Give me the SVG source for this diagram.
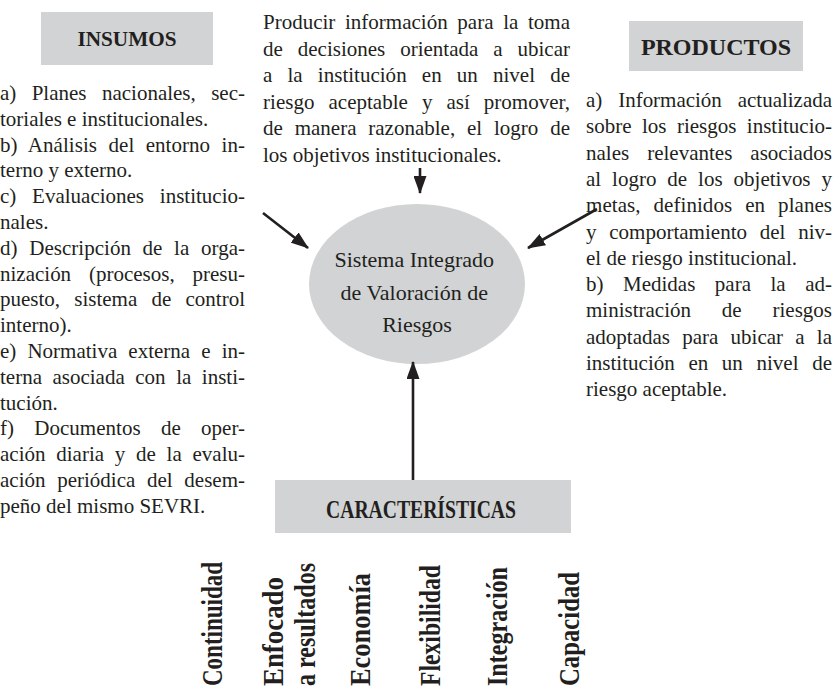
<svg xmlns="http://www.w3.org/2000/svg" width="833" height="686" viewBox="0 0 833 686">
<style>
.bg{fill:#ffffff}
.box{fill:#d1d3d4}
.t{font-family:"Liberation Serif","Times New Roman",serif;font-size:21px;fill:#231f20}
.e{font-family:"Liberation Serif","Times New Roman",serif;font-size:22px;fill:#231f20}
.h{font-family:"Liberation Serif","Times New Roman",serif;font-weight:bold;fill:#231f20}
.v{font-family:"Liberation Serif","Times New Roman",serif;font-size:30px;font-weight:bold;fill:#231f20}
.c{stroke:#231f20;stroke-width:2.6;fill:none}
</style>
<defs>
<marker id="ah" viewBox="0 0 18 13" markerWidth="18" markerHeight="13" refX="17" refY="6.5" orient="auto" markerUnits="userSpaceOnUse">
<path d="M0,0 L18,6.5 L0,13 z" fill="#231f20"/>
</marker>
</defs>
<rect class="bg" x="0" y="0" width="833" height="686"/>

<g id="insumos">
<rect class="box" x="41" y="12" width="172" height="53"/>
<text class="h" x="127" y="46" font-size="22" text-anchor="middle" textLength="99" lengthAdjust="spacingAndGlyphs">INSUMOS</text>
<text class="t">
<tspan x="0" y="100" word-spacing="10.1" textLength="245" lengthAdjust="spacing">a) Planes nacionales, sec-</tspan>
<tspan x="0" y="125.8">toriales e institucionales.</tspan>
<tspan x="0" y="151.6" word-spacing="6.1" textLength="245" lengthAdjust="spacing">b) Análisis del entorno in-</tspan>
<tspan x="0" y="177.4">terno y externo.</tspan>
<tspan x="0" y="203.2" word-spacing="10.5" textLength="245" lengthAdjust="spacing">c) Evaluaciones institucio-</tspan>
<tspan x="0" y="229">nales.</tspan>
<tspan x="0" y="254.8" word-spacing="6.4" textLength="245" lengthAdjust="spacing">d) Descripción de la orga-</tspan>
<tspan x="0" y="280.6" word-spacing="12.6" textLength="245" lengthAdjust="spacing">nización (procesos, presu-</tspan>
<tspan x="0" y="306.4" word-spacing="9" textLength="245" lengthAdjust="spacing">puesto, sistema de control</tspan>
<tspan x="0" y="332.2">interno).</tspan>
<tspan x="0" y="358" word-spacing="5.9" textLength="245" lengthAdjust="spacing">e) Normativa externa e in-</tspan>
<tspan x="0" y="383.8" word-spacing="5.3" textLength="245" lengthAdjust="spacing">terna asociada con la insti-</tspan>
<tspan x="0" y="409.6">tución.</tspan>
<tspan x="0" y="435.4" word-spacing="15" textLength="245" lengthAdjust="spacing">f) Documentos de oper-</tspan>
<tspan x="0" y="461.2" word-spacing="5.5" textLength="245" lengthAdjust="spacing">ación diaria y de la evalu-</tspan>
<tspan x="0" y="487" word-spacing="6.4" textLength="245" lengthAdjust="spacing">ación periódica del desem-</tspan>
<tspan x="0" y="512.8">peño del mismo SEVRI.</tspan>
</text>
</g>

<g id="objetivo">
<text class="t">
<tspan x="263" y="29" word-spacing="4.4" textLength="307" lengthAdjust="spacing">Producir información para la toma</tspan>
<tspan x="263" y="55.5" word-spacing="9.7" textLength="307" lengthAdjust="spacing">de decisiones orientada a ubicar</tspan>
<tspan x="263" y="82" word-spacing="9.9" textLength="307" lengthAdjust="spacing">a la institución en un nivel de</tspan>
<tspan x="263" y="108.5" word-spacing="8.7" textLength="307" lengthAdjust="spacing">riesgo aceptable y así promover,</tspan>
<tspan x="263" y="135" word-spacing="6.6" textLength="307" lengthAdjust="spacing">de manera razonable, el logro de</tspan>
<tspan x="263" y="161.5">los objetivos institucionales.</tspan>
</text>
</g>

<g id="productos">
<rect class="box" x="629" y="21" width="174" height="50"/>
<text class="h" x="716" y="54.5" font-size="24" text-anchor="middle">PRODUCTOS</text>
<text class="t">
<tspan x="586" y="107" word-spacing="10.7" textLength="246" lengthAdjust="spacing">a) Información actualizada</tspan>
<tspan x="586" y="133.3" word-spacing="5.2" textLength="246" lengthAdjust="spacing">sobre los riesgos institucio-</tspan>
<tspan x="586" y="159.6" word-spacing="12.8" textLength="246" lengthAdjust="spacing">nales relevantes asociados</tspan>
<tspan x="586" y="185.9" word-spacing="5.7" textLength="246" lengthAdjust="spacing">al logro de los objetivos y</tspan>
<tspan x="586" y="212.2" word-spacing="7.7" textLength="246" lengthAdjust="spacing">metas, definidos en planes</tspan>
<tspan x="586" y="238.5" word-spacing="7.5" textLength="246" lengthAdjust="spacing">y comportamiento del niv-</tspan>
<tspan x="586" y="264.8">el de riesgo institucional.</tspan>
<tspan x="586" y="291.1" word-spacing="14.3" textLength="246" lengthAdjust="spacing">b) Medidas para la ad-</tspan>
<tspan x="586" y="317.4" word-spacing="25.6" textLength="246" lengthAdjust="spacing">ministración de riesgos</tspan>
<tspan x="586" y="343.7" word-spacing="7" textLength="246" lengthAdjust="spacing">adoptadas para ubicar a la</tspan>
<tspan x="586" y="370" word-spacing="8.4" textLength="246" lengthAdjust="spacing">institución en un nivel de</tspan>
<tspan x="586" y="396.3">riesgo aceptable.</tspan>
</text>
</g>

<g id="sevri">
<ellipse class="box" cx="417" cy="284" rx="108" ry="80"/>
<text class="e" text-anchor="middle">
<tspan x="417" y="267">Sistema Integrado</tspan>
<tspan x="417" y="299.5">de Valoración de</tspan>
<tspan x="417" y="332">Riesgos</tspan>
</text>
</g>

<g id="caracteristicas">
<rect class="box" x="275" y="480" width="296" height="53"/>
<text class="h" x="421" y="518" font-size="25" text-anchor="middle" textLength="190" lengthAdjust="spacingAndGlyphs">CARACTERÍSTICAS</text>
<text class="v" transform="translate(222,686) rotate(-90)" textLength="124" lengthAdjust="spacingAndGlyphs">Continuidad</text>
<text class="v" transform="translate(283,686) rotate(-90)" textLength="109" lengthAdjust="spacingAndGlyphs">Enfocado</text>
<text class="v" transform="translate(315,686) rotate(-90)" textLength="123" lengthAdjust="spacingAndGlyphs">a resultados</text>
<text class="v" transform="translate(370,686) rotate(-90)" textLength="113" lengthAdjust="spacingAndGlyphs">Economía</text>
<text class="v" transform="translate(440,686) rotate(-90)" textLength="121" lengthAdjust="spacingAndGlyphs">Flexibilidad</text>
<text class="v" transform="translate(507,686) rotate(-90)" textLength="119" lengthAdjust="spacingAndGlyphs">Integración</text>
<text class="v" transform="translate(579,686) rotate(-90)" textLength="114" lengthAdjust="spacingAndGlyphs">Capacidad</text>
</g>

<g id="connectors">
<line class="c" x1="420" y1="168" x2="420" y2="193" marker-end="url(#ah)"/>
<line class="c" x1="263" y1="213" x2="308" y2="248" marker-end="url(#ah)"/>
<line class="c" x1="597" y1="209" x2="528" y2="248" marker-end="url(#ah)"/>
<line class="c" x1="413" y1="480" x2="413" y2="362" marker-end="url(#ah)"/>
</g>
</svg>
